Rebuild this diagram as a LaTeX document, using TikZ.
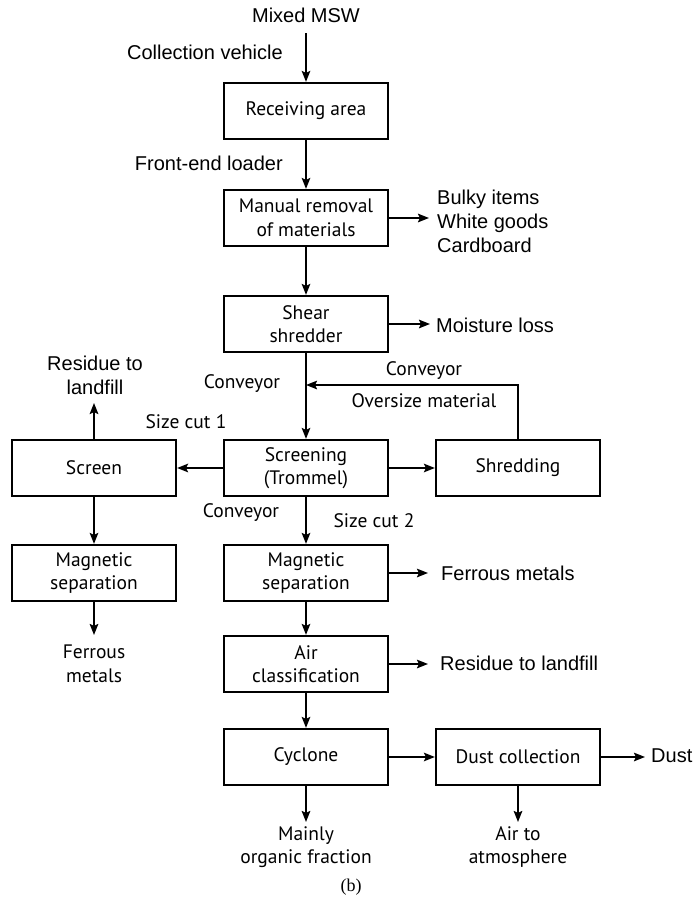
\documentclass[tikz,border=0pt]{standalone}
\usepackage{fontspec}
\setmainfont{Liberation Sans}
\newfontfamily\boxfont{PT Sans}
\newfontfamily\helv{Liberation Sans}
\newfontfamily\serifb{Liberation Serif}
\usetikzlibrary{arrows.meta}
\begin{document}
\begin{tikzpicture}[x=1pt,y=-1pt,
  box/.style={draw,line width=2.2pt,minimum width=164pt,minimum height=56pt,inner sep=0pt,align=center,font=\boxfont\fontsize{19.5}{23.5}\selectfont},
  hlab/.style={inner sep=0pt,align=center,font=\helv\fontsize{20}{24}\selectfont},
  mlab/.style={inner sep=0pt,align=center,font=\boxfont\fontsize{19.5}{23.5}\selectfont},
  arr/.style={line width=2pt,-{Stealth[length=11pt,width=8.5pt,inset=2pt]}}]
\useasboundingbox (0,0) rectangle (693,900);
% boxes
\node[box] (recv) at (306,111) {Receiving area};
\node[box] (manual) at (306,218) {Manual removal\\of materials};
\node[box] (shear) at (306,324) {Shear\\shredder};
\node[box] (scr) at (306,468) {Screening\\(Trommel)};
\node[box] (screen) at (94,468) {Screen};
\node[box] (shred) at (518,468) {Shredding};
\node[box] (mag1) at (94,573) {Magnetic\\separation};
\node[box] (mag2) at (306,573) {Magnetic\\separation};
\node[box] (air) at (306,664) {Air\\classification};
\node[box] (cyc) at (306,757) {Cyclone};
\node[box] (dust) at (518,757) {Dust collection};
% labels
\node[hlab] (msw) at (306,15) {Mixed MSW};
\node[hlab,anchor=east] (coll) at (283,52) {Collection vehicle};
\node[hlab,anchor=east] (fel) at (283,163) {Front-end loader};
\node[hlab,anchor=west,align=left] (bulky) at (437,221) {Bulky items\\White goods\\Cardboard};
\node[hlab,anchor=west] (moist) at (436,325) {Moisture loss};
\node[hlab] (res1) at (95,375) {Residue to\\landfill};
\node[mlab] (conv1) at (242,384) {Conveyor};
\node[mlab] (conv2) at (424,371) {Conveyor};
\node[mlab] (over) at (424,401) {Oversize material};
\node[mlab] (cut1) at (186,422) {Size cut 1};
\node[mlab] (conv3) at (241,513) {Conveyor};
\node[mlab] (cut2) at (374,521) {Size cut 2};
\node[hlab,anchor=west] (fer2) at (441,573) {Ferrous metals};
\node[mlab] (fer1) at (94,664) {Ferrous\\metals};
\node[hlab,anchor=west] (res2) at (440,663) {Residue to landfill};
\node[hlab,anchor=west] (dustl) at (651,756) {Dust};
\node[mlab] (org) at (306,847) {Mainly\\organic fraction};
\node[mlab] (atm) at (518,847) {Air to\\atmosphere};
\node[inner sep=0pt,font=\serifb\fontsize{18}{20}\selectfont] (b) at (351,887) {(b)};
% coordinates for free ends
\coordinate (c0) at (306,33);
\coordinate (cman) at (429,218);
\coordinate (cmoist) at (430,324);
\coordinate (cres1) at (94,403);
\coordinate (cfb) at (306,385);
\coordinate (cfer1) at (94,635);
\coordinate (cfer2) at (428,573);
\coordinate (cres2) at (428,664);
\coordinate (cdust) at (645,757);
\coordinate (corg) at (306,822);
\coordinate (catm) at (518,822);
% connectors
\draw[arr] (c0) -- (recv);
\draw[arr] (recv) -- (manual);
\draw[arr] (manual.east) -- (cman);
\draw[arr] (manual) -- (shear);
\draw[arr] (shear.east) -- (cmoist);
\draw[arr] (shear) -- (scr);
\draw[arr] (screen.north) -- (cres1);
\draw[arr] (shred.north) |- (cfb);
\draw[arr] (scr.west) -- (screen.east);
\draw[arr] (scr.east) -- (shred.west);
\draw[arr] (screen) -- (mag1);
\draw[arr] (mag1.south) -- (cfer1);
\draw[arr] (scr) -- (mag2);
\draw[arr] (mag2.east) -- (cfer2);
\draw[arr] (mag2) -- (air);
\draw[arr] (air.east) -- (cres2);
\draw[arr] (air) -- (cyc);
\draw[arr] (cyc.east) -- (dust.west);
\draw[arr] (dust.east) -- (cdust);
\draw[arr] (cyc.south) -- (corg);
\draw[arr] (dust.south) -- (catm);
\end{tikzpicture}
\end{document}
